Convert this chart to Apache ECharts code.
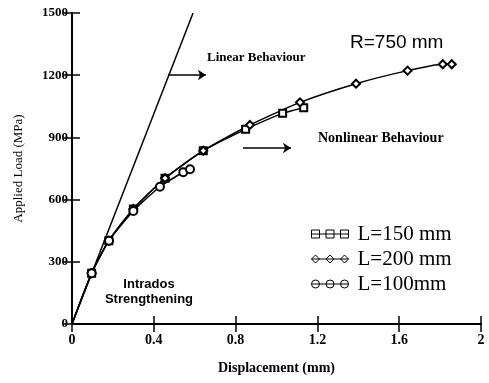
<!DOCTYPE html>
<html><head><meta charset="utf-8">
<script src="https://cdn.jsdelivr.net/npm/echarts@6/dist/echarts.min.js"></script>
<style>html,body{margin:0;padding:0;background:#fff}#c{width:489px;height:383px}</style>
</head><body><div id="c"></div>
<script>
var xTicks = [0, 0.4, 0.8, 1.2, 1.6, 2];
var yTicks = [0, 300, 600, 900, 1200, 1500];
var seriesNames = ['L=150 mm', 'L=200 mm', 'L=100mm'];
var L150 = [[0,0],[0.096,245],[0.18,402],[0.30,555],[0.455,703],[0.642,836],[0.849,939],[1.03,1016],[1.133,1043]];
var L200 = [[0,0],[0.096,245],[0.18,402],[0.30,555],[0.455,703],[0.642,836],[0.870,960],[1.115,1069],[1.389,1159],[1.641,1222],[1.813,1253],[1.857,1253]];
var L100 = [[0,0],[0.096,245],[0.181,402],[0.30,545],[0.43,662],[0.544,732],[0.577,746]];
var linear = [[0,0],[0.592,1500]];
var arrow1 = [[0.469,1201],[0.655,1201]];
var arrow2 = [[0.836,849],[1.071,849]];

var serif = 'Liberation Serif', sans = 'Liberation Sans';
function pts(arr){ return arr.map(function(p,i){ return i===0 ? {value:p, symbol:'none'} : {value:p}; }); }
function mkSeries(name, data, sym, size){
  return {name:name, type:'line', data:pts(data), smooth:0.2, symbol:sym, symbolSize:size,
    lineStyle:{color:'#000', width:1.5}, itemStyle:{color:'#000', borderColor:'#000', borderWidth:1.2}, z:3};
}
var iconSq = 'path://M0,4.5L37,4.5M0,0.5L8,0.5L8,8.5L0,8.5ZM14.5,0.5L22.5,0.5L22.5,8.5L14.5,8.5ZM29,0.5L37,0.5L37,8.5L29,8.5Z';
var iconDi = 'path://M0,4.5L37,4.5M0,4.5L4,0.5L8,4.5L4,8.5ZM14.5,4.5L18.5,0.5L22.5,4.5L18.5,8.5ZM29,4.5L33,0.5L37,4.5L33,8.5Z';
var iconCi = 'path://M0,4.5L37,4.5M0,4.5A4,4,0,1,1,8,4.5A4,4,0,1,1,0,4.5ZM14.5,4.5A4,4,0,1,1,22.5,4.5A4,4,0,1,1,14.5,4.5ZM29,4.5A4,4,0,1,1,37,4.5A4,4,0,1,1,29,4.5Z';

var chart = echarts.init(document.getElementById('c'));
var axisLine = {show:true, lineStyle:{color:'#000', width:2}};
var axisTick = {show:true, inside:true, length:8, lineStyle:{color:'#000', width:1.5}};
chart.setOption({
  animation:false,
  backgroundColor:'#fff',
  grid:{left:72, right:8, top:13, bottom:59},
  xAxis:[
    {type:'value', min:xTicks[0], max:xTicks[xTicks.length-1], interval:0.4, position:'bottom',
     axisLine:axisLine, axisTick:axisTick, splitLine:{show:false},
     axisLabel:{color:'#000', fontFamily:serif, fontWeight:'bold', fontSize:14, margin:9,
       formatter:function(v){ return String(v); }},
     name:'Displacement (mm)', nameLocation:'middle', nameGap:37,
     nameTextStyle:{color:'#000', fontFamily:serif, fontWeight:'bold', fontSize:14}},
    {type:'value', min:0, max:2, interval:0.4, position:'top',
     axisLine:axisLine, axisTick:axisTick, axisLabel:{show:false}, splitLine:{show:false}}
  ],
  yAxis:[
    {type:'value', min:yTicks[0], max:yTicks[yTicks.length-1], interval:300, position:'left',
     axisLine:axisLine, axisTick:axisTick, splitLine:{show:false},
     axisLabel:{color:'#000', fontFamily:serif, fontWeight:'bold', fontSize:13, margin:4,
       formatter:function(v){ return String(v); }},
     name:'Applied Load (MPa)', nameLocation:'middle', nameGap:47,
     nameTextStyle:{color:'#000', fontFamily:serif, fontSize:13}},
    {type:'value', min:0, max:1500, interval:300, position:'right',
     axisLine:axisLine, axisTick:axisTick, axisLabel:{show:false}, splitLine:{show:false}}
  ],
  legend:{
    orient:'vertical', left:306, top:218, itemWidth:37, itemHeight:9, itemGap:3,
    itemStyle:{color:'#fff', borderColor:'#000', borderWidth:1},
    textStyle:{color:'#000', fontFamily:serif, fontSize:21, lineHeight:22, padding:[0,0,0,4]},
    data:[{name:seriesNames[0], icon:iconSq},{name:seriesNames[1], icon:iconDi},{name:seriesNames[2], icon:iconCi}]
  },
  series:[
    mkSeries(seriesNames[0], L150, 'emptyRect', 7),
    mkSeries(seriesNames[1], L200, 'emptyDiamond', 8),
    mkSeries(seriesNames[2], L100, 'emptyCircle', 8),
    {name:'linear', type:'line', data:linear, symbol:'none', lineStyle:{color:'#000', width:1.5}, z:2,
     markLine:{silent:true, symbol:['none','arrow'], symbolSize:8, label:{show:false},
       lineStyle:{color:'#000', width:1.5, type:'solid'},
       data:[[{coord:arrow1[0]},{coord:arrow1[1]}],[{coord:arrow2[0]},{coord:arrow2[1]}]]}}
  ],
  graphic:[
    {type:'text', left:350, top:33, style:{text:'R=750 mm', font:'19px "Liberation Sans"', fill:'#000'}},
    {type:'text', left:207, top:51, style:{text:'Linear Behaviour', font:'bold 13px "Liberation Serif"', fill:'#000'}},
    {type:'text', left:318, top:131, style:{text:'Nonlinear Behaviour', font:'bold 14px "Liberation Serif"', fill:'#000'}},
    {type:'text', x:149, y:284, style:{text:'Intrados', font:'bold 13px "Liberation Sans"', fill:'#000', align:'center', verticalAlign:'middle'}},
    {type:'text', x:149, y:299, style:{text:'Strengthening', font:'bold 13px "Liberation Sans"', fill:'#000', align:'center', verticalAlign:'middle'}}
  ]
});
</script></body></html>
